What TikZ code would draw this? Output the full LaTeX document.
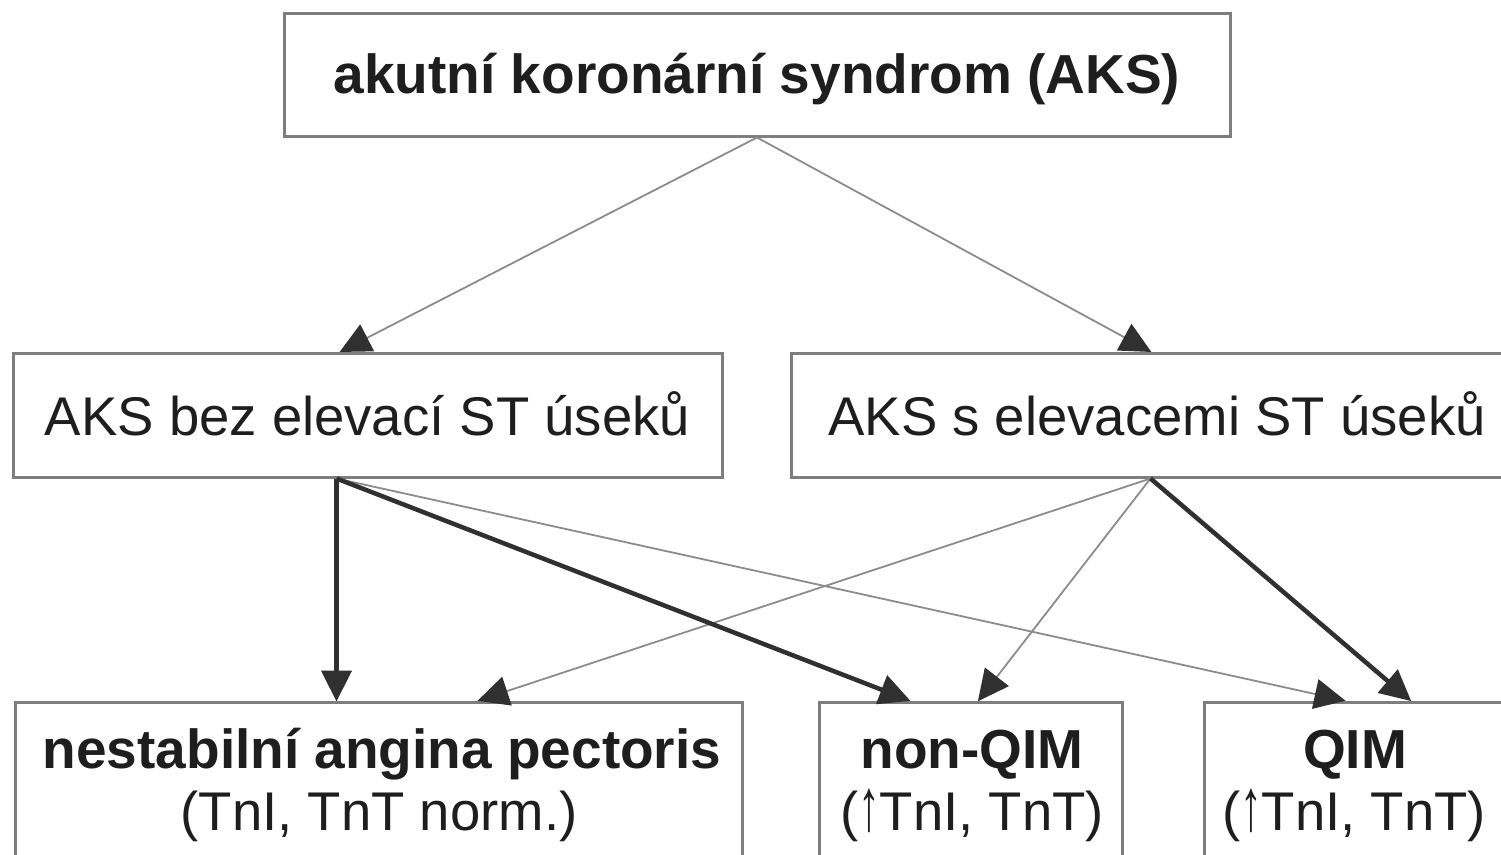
\documentclass[tikz,border=0pt]{standalone}
\usepackage{fontspec}
\setmainfont{Liberation Sans}
\usetikzlibrary{arrows.meta,calc}
\definecolor{boxgray}{HTML}{7E7E7E}
\definecolor{thingray}{HTML}{8C8C8C}
\definecolor{darkline}{HTML}{303030}
\definecolor{txtcol}{HTML}{1E1E1E}
\newcommand{\tallup}{\scalebox{0.8}[1.35]{↑}}
\tikzset{
  boxnode/.style={draw=boxgray, line width=3pt, fill=none, inner sep=0pt, rectangle},
  txtbold/.style={anchor=base, inner sep=0pt, text=txtcol, font=\fontsize{55}{62}\selectfont\bfseries},
  txtreg/.style={anchor=base, inner sep=0pt, text=txtcol, font=\fontsize{54.5}{62}\selectfont},
  tiphead/.style={-{Triangle[length=31pt,width=30pt,color=darkline]}},
  thinarrow/.style={tiphead, draw=thingray, line width=1.8pt, shorten >=-1pt},
  thickarrow/.style={tiphead, draw=darkline, line width=4.5pt, shorten >=-1pt},
}
\begin{document}
\begin{tikzpicture}[x=1pt,y=-1pt]
\useasboundingbox (0,0) rectangle (1501,854);
\clip (0,0) rectangle (1501,854);
\fill[white] (0,0) rectangle (1501,854);
% boxes
\node[boxnode, minimum width=946pt, minimum height=123pt] (aks) at (757,74.5) {};
\node[boxnode, minimum width=709pt, minimum height=124pt] (bez) at (367.5,415) {};
\node[boxnode, minimum width=734pt, minimum height=124pt] (sel) at (1158,415) {};
\node[boxnode, minimum width=727pt, minimum height=178pt] (nap) at (378.5,791) {};
\node[boxnode, minimum width=303pt, minimum height=178pt] (nq) at (970.5,791) {};
\node[boxnode, minimum width=302pt, minimum height=178pt] (q) at (1355,791) {};
% texts
\node[txtbold] (aksT) at (757,93) {akutní koronární syndrom (AKS)};
\node[txtreg] (bezT) at (367.5,435) {AKS bez elevací ST úseků};
\node[txtreg] (selT) at (1157,435) {AKS s elevacemi ST úseků};
\node[txtbold] (napT1) at (382,768) {nestabilní angina pectoris};
\node[txtreg] (napT2) at (379,830) {(TnI, TnT norm.)};
\node[txtbold] (nqT1) at (972,768) {non-QIM};
\node[txtreg] (nqT2) at (972,830) {(\tallup TnI, TnT)};
\node[txtbold] (qT1) at (1355,768) {QIM};
\node[txtreg] (qT2) at (1354,830) {(\tallup TnI, TnT)};
% connector end points on box edges
\coordinate (bezS) at ($(bez.south west)+(325,0)$);
\coordinate (selS) at ($(sel.south west)+(361,0)$);
\coordinate (bezIn) at ($(bez.north west)+(329,0)$);
\coordinate (selIn) at ($(sel.north west)+(361,0)$);
\coordinate (napA) at ($(nap.north west)+(323,0)$);
\coordinate (napB) at ($(nap.north west)+(465,0)$);
\coordinate (nqA) at ($(nq.north west)+(92,0)$);
\coordinate (nqB) at ($(nq.north west)+(161,0)$);
\coordinate (qA) at ($(q.north west)+(142,0)$);
\coordinate (qB) at ($(q.north west)+(208,0)$);
% connectors
\draw[thinarrow] (aks.south) -- (bezIn);
\draw[thinarrow] (aks.south) -- (selIn);
\draw[thinarrow] (bezS) -- (qA);
\draw[thinarrow] (selS) -- (napB);
\draw[thinarrow] (selS) -- (nqB);
\draw[thickarrow] (bezS) -- (napA);
\draw[thickarrow] (bezS) -- (nqA);
\draw[thickarrow] (selS) -- (qB);
\end{tikzpicture}
\end{document}
